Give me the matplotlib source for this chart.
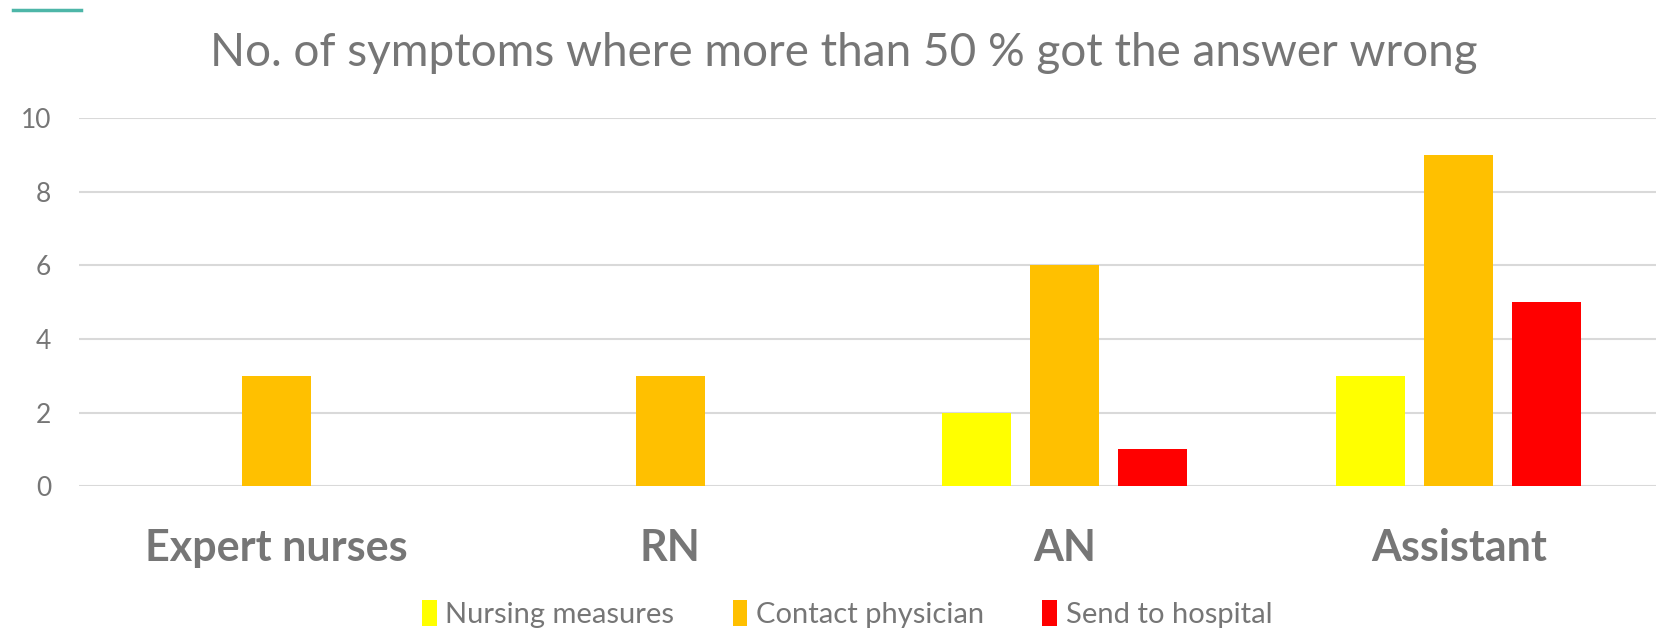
import numpy as np
import matplotlib.pyplot as plt
from matplotlib.lines import Line2D

# data
groups = ['Expert nurses', 'RN', 'AN', 'Assistant']
series = ['Nursing measures', 'Contact physician', 'Send to hospital']
nursing = [0, 0, 2, 3]
physician = [3, 3, 6, 9]
hospital = [0, 0, 1, 5]
colors = ['#FFFF00', '#FFC000', '#FF0000']

grey = '#767676'
plt.rcParams['font.family'] = ['Lato', 'DejaVu Sans']

fig = plt.figure(figsize=(16.61, 6.34), dpi=100)
ax = fig.add_axes([0.0476, 0.233, 0.9494, 0.581])

x = np.arange(len(groups))
w = 0.175
step = 0.223
for i, (vals, name) in enumerate(zip([nursing, physician, hospital], series)):
    ax.bar(x + (i - 1) * step, vals, width=w, color=colors[i], label=name, zorder=3)

ax.set_xlim(-0.5, len(groups) - 0.5)
ax.set_ylim(0, 10)
ax.set_yticks(range(0, 11, 2))
ax.grid(axis='y', color='#d9d9d9', linewidth=1.5, zorder=0)
for s in ax.spines.values():
    s.set_visible(False)
ax.tick_params(axis='y', length=0, labelsize=19, labelcolor=grey, pad=20)
ax.tick_params(axis='x', length=0, pad=30)
ax.set_xticks(x)
ax.set_xticklabels(groups, fontsize=31, fontweight='bold', color=grey)

fig.text(0.508, 0.916, 'No. of symptoms where more than 50 % got the answer wrong',
         ha='center', va='center', fontsize=33, color=grey)

leg = fig.legend(loc='center', bbox_to_anchor=(0.51, 0.032), ncol=3, frameon=False,
                 fontsize=21, handlelength=0.5, handleheight=1.0, handletextpad=0.3,
                 columnspacing=2.0)
for t in leg.get_texts():
    t.set_color(grey)

# small teal accent line in the top-left corner
fig.add_artist(Line2D([13 / 1661, 81 / 1661], [1 - 10 / 634, 1 - 10 / 634],
                      color='#4db6a8', linewidth=2.5, transform=fig.transFigure))

fig.savefig('out.png', dpi=100)
